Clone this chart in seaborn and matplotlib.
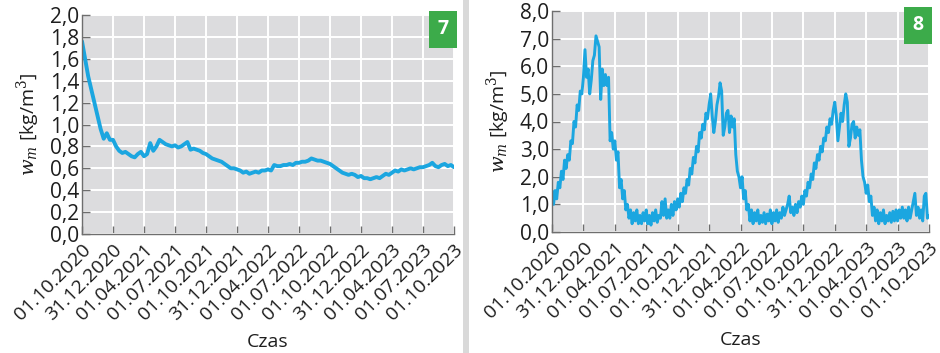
import numpy as np
import pandas as pd
import matplotlib
matplotlib.use("Agg")
import matplotlib.pyplot as plt
import seaborn as sns

# ---------------- data ----------------
tick_labels = ["01.10.2020", "31.12.2020", "01.04.2021", "01.07.2021", "01.10.2021",
               "31.12.2021", "01.04.2022", "01.07.2022", "01.10.2022", "31.12.2022",
               "01.04.2023", "01.07.2023", "01.10.2023"]

# panel 7: sampled every 0.1 of a tick interval
wm7 = [
    1.76, 1.60, 1.44, 1.32, 1.20, 1.08, 0.96, 0.87, 0.92, 0.86,
    0.86, 0.80, 0.76, 0.74, 0.75, 0.73, 0.71, 0.70, 0.73, 0.75,
    0.71, 0.73, 0.83, 0.76, 0.80, 0.86, 0.84, 0.82, 0.81, 0.80,
    0.81, 0.79, 0.80, 0.82, 0.84, 0.77, 0.78, 0.77, 0.76, 0.74,
    0.73, 0.71, 0.69, 0.68, 0.67, 0.66, 0.64, 0.62, 0.60, 0.60,
    0.59, 0.58, 0.56, 0.57, 0.55, 0.56, 0.57, 0.56, 0.58, 0.58,
    0.59, 0.58, 0.63, 0.62, 0.62, 0.63, 0.63, 0.64, 0.63, 0.65,
    0.65, 0.66, 0.66, 0.67, 0.69, 0.68, 0.67, 0.67, 0.66, 0.65,
    0.64, 0.62, 0.60, 0.58, 0.56, 0.55, 0.54, 0.55, 0.54, 0.52,
    0.53, 0.51, 0.51, 0.50, 0.51, 0.52, 0.51, 0.53, 0.55, 0.54,
    0.56, 0.58, 0.57, 0.59, 0.58, 0.59, 0.60, 0.59, 0.60, 0.61,
    0.61, 0.62, 0.63, 0.65, 0.62, 0.61, 0.63, 0.64, 0.62, 0.63,
    0.61,
]

# panel 8: sampled every 0.05 of a tick interval
wm8 = [
    1.5, 1.0, 1.5, 1.2, 1.8, 1.6, 2.2, 1.9, 2.6, 2.3, 2.8, 2.6, 3.3, 3.2, 4.0, 3.8, 4.6, 4.4, 5.1, 5.0,
    5.6, 6.6, 5.6, 5.9, 5.0, 5.5, 6.2, 6.4, 7.1, 6.9, 6.7, 4.8, 5.9, 5.3, 5.7, 5.3, 5.6, 3.3, 3.6, 3.0,
    3.3, 2.6, 2.9, 1.6, 1.9, 1.2, 1.5, 0.8, 1.0, 0.5, 0.8, 0.3, 0.7, 0.4, 0.8, 0.3, 0.6, 0.3, 0.7, 0.4,
    0.8, 0.3, 0.6, 0.25, 0.7, 0.4, 0.8, 0.35, 0.6, 0.5, 1.1, 0.6, 1.2, 0.5, 0.8, 0.5, 1.0, 0.6, 1.1, 0.8,
    1.2, 0.9, 1.4, 1.1, 1.6, 1.4, 1.9, 1.7, 2.3, 2.1, 2.7, 2.5, 3.1, 2.9, 3.6, 3.4, 3.9, 3.7, 4.3, 4.1,
    4.6, 5.0, 4.2, 3.6, 4.0, 4.6, 4.9, 5.4, 5.1, 3.5, 3.8, 4.3, 4.4, 3.6, 4.2, 3.8, 4.1, 2.8, 2.2, 2.0,
    1.6, 2.0, 1.2, 1.5, 0.8, 1.0, 0.4, 0.8, 0.3, 0.7, 0.4, 0.8, 0.3, 0.6, 0.35, 0.7, 0.3, 0.65, 0.4, 0.8,
    0.3, 0.7, 0.4, 0.8, 0.35, 0.7, 0.5, 0.9, 0.6, 0.8, 1.0, 1.3, 0.7, 0.9, 0.6, 1.0, 0.7, 1.1, 0.9, 1.3,
    1.0, 1.5, 1.3, 1.8, 1.6, 2.1, 1.9, 2.5, 2.3, 2.8, 2.6, 3.1, 2.9, 3.4, 3.3, 3.8, 3.6, 4.1, 3.9, 4.4,
    4.7, 4.2, 3.3, 3.8, 4.3, 4.0, 4.6, 5.0, 4.7, 3.1, 3.4, 3.9, 4.0, 3.4, 3.8, 3.5, 3.7, 2.6, 2.0, 1.8,
    1.4, 1.7, 1.1, 1.3, 0.6, 0.9, 0.4, 0.8, 0.3, 0.7, 0.4, 0.8, 0.3, 0.6, 0.4, 0.7, 0.35, 0.75, 0.4, 0.8,
    0.4, 0.8, 0.5, 0.9, 0.5, 0.8, 0.4, 0.9, 0.5, 0.8, 1.1, 1.4, 0.6, 0.9, 0.5, 0.8, 0.4, 1.3, 1.4, 0.5,
    0.6,
]

y7_ticks = [0.0, 0.2, 0.4, 0.6, 0.8, 1.0, 1.2, 1.4, 1.6, 1.8, 2.0]
y8_ticks = [0.0, 1.0, 2.0, 3.0, 4.0, 5.0, 6.0, 7.0, 8.0]

t7 = np.linspace(0, 12, len(wm7))
t8 = np.linspace(0, 12, len(wm8))
df7 = pd.DataFrame({"t": t7, "wm": wm7})
df8 = pd.DataFrame({"t": t8, "wm": wm8})

# ---------------- style ----------------
sns.set_theme(style="darkgrid")
plt.rcParams["font.family"] = ["Open Sans", "DejaVu Sans"]
plt.rcParams["mathtext.fontset"] = "dejavuserif"

LINE = "#1ba6e0"
BG = "#dcdcde"
SPINE = "#6e6e6e"
GREEN = "#3cab4a"
TXT = "#1e1e1e"

fig = plt.figure(figsize=(9.4, 3.53), dpi=100)
fig.patch.set_facecolor("white")

ax7 = fig.add_axes([82 / 940, (353 - 234) / 353, (454 - 82) / 940, (234 - 15) / 353])
ax8 = fig.add_axes([552 / 940, (353 - 232) / 353, (929 - 552) / 940, (232 - 11) / 353])

sns.lineplot(data=df7, x="t", y="wm", ax=ax7, color=LINE, linewidth=2.8)
sns.lineplot(data=df8, x="t", y="wm", ax=ax8, color=LINE, linewidth=2.1)


def style(ax, yticks, ymax, badge):
    ax.set_facecolor(BG)
    ax.set_xlim(0, 12)
    ax.set_ylim(0, ymax)
    ax.set_xticks(range(13))
    ax.set_xticklabels(tick_labels, rotation=45, ha="right", rotation_mode="anchor",
                       fontsize=14, color=TXT)
    ax.set_yticks(yticks)
    ax.set_yticklabels([f"{v:.1f}".replace(".", ",") for v in yticks],
                       fontsize=15, color=TXT)
    ax.grid(True, color="white", linewidth=1.4)
    for s in ["top", "right"]:
        ax.spines[s].set_visible(False)
    for s in ["left", "bottom"]:
        ax.spines[s].set_visible(True)
        ax.spines[s].set_color(SPINE)
        ax.spines[s].set_linewidth(1.0)
    ax.tick_params(axis="both", direction="in", length=6, width=1.0, color=SPINE, pad=2,
                   bottom=True, left=True)
    ax.tick_params(axis="x", pad=5)
    ax.set_xlabel("Czas", fontsize=14, color=TXT, labelpad=6)
    ax.set_ylabel(r"$w_m$ [kg/m$^3$]", fontsize=14, color=TXT, labelpad=6)
    ax.text(0.985, 0.98, badge, transform=ax.transAxes, ha="right", va="top",
            fontsize=14, fontweight="bold", color="white",
            bbox=dict(boxstyle="square,pad=0.45", facecolor=GREEN, edgecolor="none"))


style(ax7, y7_ticks, 2.0, "7")
style(ax8, y8_ticks, 8.0, "8")

# separator band between panels
fig.patches.append(plt.Rectangle((463 / 940, 0), 6 / 940, 1, transform=fig.transFigure,
                                 facecolor="#d9d9d9", edgecolor="none"))

fig.savefig("out.png", dpi=100, facecolor="white")
